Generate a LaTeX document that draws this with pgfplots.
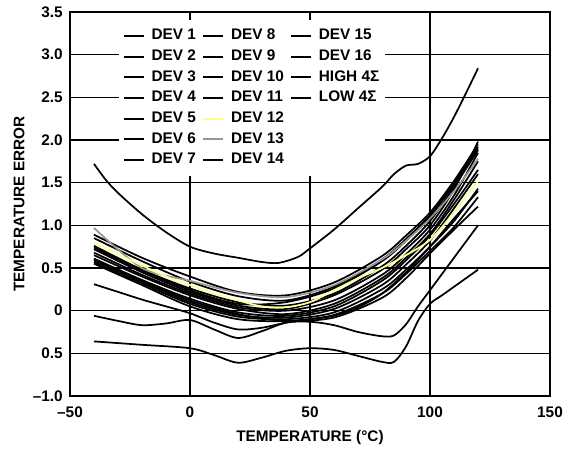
\documentclass[border=0pt]{standalone}
\usepackage{fontspec}
\setmainfont{Liberation Sans}
\usepackage{pgfplots}
\pgfplotsset{compat=1.18}

\definecolor{devyellow}{RGB}{255,255,140}
\definecolor{devgray}{RGB}{150,150,150}

\pgfplotsset{
  dev/.style={black, line width=1.3pt, smooth, no markers, forget plot},
}

\begin{document}
\begin{tikzpicture}
\begin{axis}[
  width=360pt, height=288pt, scale only axis,
  xmin=-50, xmax=150, ymin=-1, ymax=3.5,
  xtick={-50,0,50,100,150},
  ytick={-1,-0.5,0,0.5,1,1.5,2,2.5,3,3.5},
  xticklabels={\textendash50,0,50,100,150},
  yticklabels={\textendash1.0,0.5,0,0.5,1.0,1.5,2.0,2.5,3.0,3.5},
  grid=major,
  major grid style={black, line width=0.8pt},
  axis line style={line width=1.5pt},
  major tick length=0pt,
  tick label style={font=\fontsize{11.5}{13}\selectfont\bfseries},
  yticklabel style={xshift=-2pt},
  xticklabel style={yshift=-4.2pt},
  xlabel={TEMPERATURE (°C)},
  ylabel={TEMPERATURE ERROR},
  label style={font=\fontsize{11.5}{13}\selectfont\bfseries},
  xlabel style={at={(axis description cs:0.5,-0.107)}, anchor=center},
  ylabel style={at={(axis description cs:-0.106,0.5)}, anchor=center},
  legend columns=3,
  legend cell align=left,
  legend image code/.code={\draw[#1, line width=1.3pt] (0pt,0pt) -- (15pt,0pt);},
  legend style={at={(0.102,0.979)}, anchor=north west, draw=none, fill=white,
    font=\fontsize{11.5}{13}\selectfont\bfseries,
    inner xsep=3pt, inner ysep=5pt, row sep=2pt,
    nodes={inner sep=1.5pt, text height=8.2pt, text depth=2.3pt},
    /tikz/every odd column/.append style={column sep=3.5pt},
    /tikz/every even column/.append style={column sep=3.5pt}},
]
% HIGH 4 sigma
\addplot[dev] coordinates {(-40,1.72) (-35,1.53) (-30,1.38) (-20,1.13) (-10,0.92) (0,0.75) (10,0.67) (20,0.62) (30,0.57) (37,0.56) (45,0.63) (50,0.73) (60,0.95) (70,1.20) (80,1.45) (85,1.60) (90,1.70) (95,1.72) (100,1.81) (105,2.02) (110,2.27) (115,2.55) (120,2.84)};
% LOW 4 sigma
\addplot[dev] coordinates {(-40,-0.36) (-20,-0.40) (0,-0.44) (10,-0.52) (20,-0.61) (30,-0.55) (40,-0.47) (50,-0.44) (60,-0.46) (70,-0.53) (80,-0.60) (85,-0.60) (90,-0.42) (95,-0.12) (100,0.08) (105,0.18) (110,0.28) (120,0.48)};
% lower devices
\addplot[dev] coordinates {(-40,-0.06) (-30,-0.12) (-20,-0.17) (-10,-0.15) (0,-0.11) (10,-0.22) (20,-0.32) (30,-0.24) (40,-0.14) (50,-0.13) (60,-0.17) (70,-0.25) (80,-0.30) (85,-0.29) (90,-0.16) (95,0.05) (100,0.24) (110,0.62) (120,1.00)};
\addplot[dev] coordinates {(-40,0.31) (-30,0.22) (-20,0.13) (-10,0.05) (0,-0.03) (10,-0.14) (20,-0.22) (30,-0.20) (40,-0.14) (50,-0.10) (60,-0.06) (70,0.04) (80,0.20) (90,0.45) (100,0.75) (110,1.08) (120,1.40)};
% main bundle
\addplot[dev] coordinates {(-40,0.89) (-20,0.62) (0,0.40) (20,0.22) (40,0.18) (60,0.33) (80,0.64) (90,0.88) (100,1.15) (110,1.52) (120,1.95)};
\addplot[dev] coordinates {(-40,0.85) (-20,0.58) (0,0.34) (20,0.17) (40,0.12) (60,0.28) (80,0.60) (90,0.84) (100,1.12) (110,1.50) (120,1.90)};
\addplot[dev] coordinates {(-40,0.76) (-20,0.48) (0,0.26) (20,0.10) (40,0.06) (60,0.20) (80,0.52) (90,0.76) (100,1.05) (110,1.45) (120,1.88)};
\addplot[dev] coordinates {(-40,0.72) (-20,0.45) (0,0.22) (20,0.06) (40,0.02) (60,0.18) (80,0.48) (90,0.72) (100,1.00) (110,1.42) (120,1.98)};
\addplot[dev] coordinates {(-40,0.68) (-20,0.42) (0,0.20) (20,0.04) (40,0.00) (60,0.12) (80,0.42) (90,0.66) (100,0.95) (110,1.35) (120,1.85)};
\addplot[dev] coordinates {(-40,0.65) (-20,0.40) (0,0.18) (20,0.02) (40,-0.04) (60,0.08) (80,0.38) (90,0.62) (100,0.90) (110,1.30) (120,1.75)};
\addplot[dev] coordinates {(-40,0.61) (-20,0.36) (0,0.14) (20,-0.02) (40,-0.06) (60,0.05) (80,0.35) (90,0.59) (100,0.88) (110,1.25) (120,1.65)};
\addplot[dev] coordinates {(-40,0.59) (-20,0.34) (0,0.10) (20,-0.05) (40,-0.08) (60,0.02) (80,0.30) (90,0.54) (100,0.82) (110,1.20) (120,1.60)};
\addplot[dev] coordinates {(-40,0.57) (-20,0.32) (0,0.08) (20,-0.07) (40,-0.10) (60,-0.02) (80,0.25) (90,0.48) (100,0.75) (110,1.05) (120,1.43)};
\addplot[dev] coordinates {(-40,0.55) (-20,0.30) (0,0.05) (20,-0.10) (40,-0.12) (60,-0.05) (80,0.20) (90,0.43) (100,0.70) (110,0.98) (120,1.33)};
\addplot[dev] coordinates {(-40,0.60) (-20,0.35) (0,0.12) (20,-0.04) (40,-0.12) (60,-0.08) (80,0.15) (90,0.38) (100,0.67) (110,0.95) (120,1.22)};
\addplot[dev] coordinates {(-40,0.74) (-20,0.47) (0,0.24) (20,0.08) (40,0.10) (60,0.26) (80,0.58) (90,0.82) (100,1.10) (110,1.48) (120,1.92)};
% DEV 13 (gray) and DEV 12 (yellow)
\addplot[dev, devgray] coordinates {(-40,0.97) (-20,0.50) (0,0.35) (20,0.21) (40,0.16) (60,0.30) (80,0.60) (90,0.82) (100,1.08) (110,1.40) (120,1.78)};
\addplot[dev, devyellow] coordinates {(-40,0.80) (-30,0.66) (-20,0.53) (-10,0.40) (0,0.30) (10,0.20) (20,0.12) (30,0.05) (40,0.04) (50,0.10) (60,0.24) (70,0.38) (80,0.50) (90,0.65) (100,0.83) (110,1.15) (120,1.52)};
% legend, ordered row by row
\addlegendimage{black}\addlegendentry{DEV 1}
\addlegendimage{black}\addlegendentry{DEV 8}
\addlegendimage{black}\addlegendentry{DEV 15}
\addlegendimage{black}\addlegendentry{DEV 2}
\addlegendimage{black}\addlegendentry{DEV 9}
\addlegendimage{black}\addlegendentry{DEV 16}
\addlegendimage{black}\addlegendentry{DEV 3}
\addlegendimage{black}\addlegendentry{DEV 10}
\addlegendimage{black}\addlegendentry{HIGH 4Σ}
\addlegendimage{black}\addlegendentry{DEV 4}
\addlegendimage{black}\addlegendentry{DEV 11}
\addlegendimage{black}\addlegendentry{LOW 4Σ}
\addlegendimage{black}\addlegendentry{DEV 5}
\addlegendimage{devyellow}\addlegendentry{DEV 12}
\addlegendimage{empty legend}\addlegendentry{}
\addlegendimage{black}\addlegendentry{DEV 6}
\addlegendimage{devgray}\addlegendentry{DEV 13}
\addlegendimage{empty legend}\addlegendentry{}
\addlegendimage{black}\addlegendentry{DEV 7}
\addlegendimage{black}\addlegendentry{DEV 14}
\end{axis}
\path[use as bounding box] ([xshift=-52.5pt,yshift=-42pt]current axis.south west)
  rectangle ([xshift=16.5pt,yshift=9pt]current axis.north east);
\end{tikzpicture}
\end{document}
